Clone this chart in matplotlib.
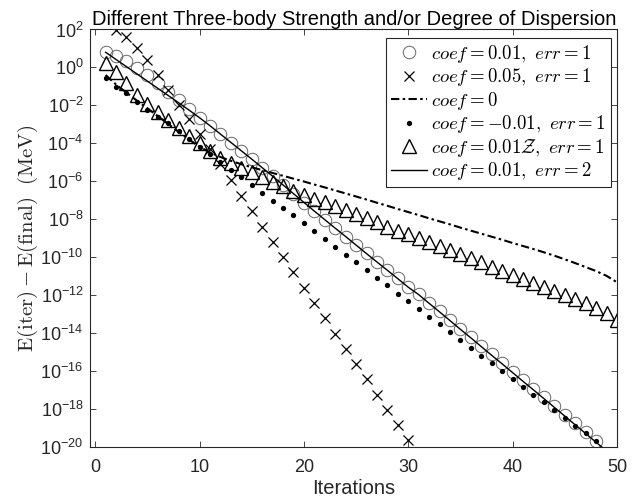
import numpy as np
import matplotlib
matplotlib.use("Agg")
import matplotlib.pyplot as plt
from matplotlib.ticker import FixedLocator, NullLocator, FuncFormatter

plt.rcParams['font.family'] = ['Liberation Sans', 'DejaVu Sans']
plt.rcParams['mathtext.fontset'] = 'cm'

# log10 of E(iter) - E(final) for each run, starting at the iteration given
circ_start = 1
circ_log = [0.80, 0.60, 0.33, -0.02, -0.41, -0.83, -1.29, -1.74, -2.19, -2.64,
            -3.08, -3.52, -3.96, -4.40, -4.84, -5.29, -5.74, -6.20, -6.66, -7.12,
            -7.58, -8.03, -8.47, -8.91, -9.35, -9.80, -10.24, -10.68, -11.12, -11.56,
            -11.95, -12.40, -12.85, -13.31, -13.76, -14.21, -14.67, -15.12, -15.57, -16.03,
            -16.48, -16.93, -17.39, -17.84, -18.29, -18.75, -19.20, -19.66]

cross_start = 2
cross_log = [1.97, 1.62, 1.04, 0.38, -0.41, -1.20, -1.99, -2.74, -3.52, -4.30,
             -5.08, -5.93, -6.75, -7.56, -8.40, -9.21, -10.00, -10.79, -11.60, -12.41,
             -13.21, -14.03, -14.83, -15.63, -16.44, -17.24, -18.04, -18.83, -19.63]

zero_start = 1
zero_log = [-0.40, -0.90, -1.33, -1.75, -2.15, -2.56, -2.98, -3.40, -3.80, -4.18,
            -4.48, -4.72, -4.92, -5.10, -5.26, -5.41, -5.56, -5.71, -5.86, -6.01,
            -6.17, -6.32, -6.48, -6.64, -6.80, -6.96, -7.13, -7.29, -7.46, -7.62,
            -7.78, -7.95, -8.11, -8.27, -8.44, -8.60, -8.76, -8.92, -9.08, -9.25,
            -9.41, -9.57, -9.74, -9.92, -10.11, -10.31, -10.52, -10.73, -10.98, -11.32]

neg_start = 1
neg_log = [-0.55, -1.05, -1.37, -1.81, -2.22, -2.60, -2.95, -3.33, -3.76, -4.17,
           -4.55, -4.99, -5.40, -5.79, -6.22, -6.61, -7.02, -7.41, -7.80, -8.21,
           -8.63, -9.03, -9.46, -9.86, -10.26, -10.69, -11.09, -11.49, -11.92, -12.32,
           -12.72, -13.13, -13.53, -13.95, -14.36, -14.78, -15.18, -15.59, -16.01, -16.42,
           -16.82, -17.24, -17.65, -18.05, -18.46, -18.87, -19.28, -19.70]

z_start = 1
z_log = [0.21, -0.25, -0.84, -1.44, -1.91, -2.34, -2.78, -3.18, -3.60, -4.00,
         -4.42, -4.75, -5.02, -5.29, -5.52, -5.78, -6.04, -6.27, -6.49, -6.72,
         -6.93, -7.10, -7.32, -7.51, -7.72, -7.93, -8.15, -8.39, -8.61, -8.80,
         -8.99, -9.21, -9.42, -9.62, -9.84, -10.05, -10.26, -10.49, -10.72, -10.92,
         -11.14, -11.36, -11.56, -11.77, -11.97, -12.19, -12.42, -12.67, -12.95, -13.30]

err2_start = 1
err2_log = [0.80, 0.42, 0.04, -0.34, -0.72, -1.10, -1.48, -1.86, -2.25, -2.65,
            -3.07, -3.51, -3.95, -4.39, -4.83, -5.28, -5.73, -6.19, -6.65, -7.11,
            -7.57, -8.02, -8.47, -8.91, -9.36, -9.81, -10.25, -10.69, -11.13, -11.58,
            -11.97, -12.43, -12.88, -13.34, -13.80, -14.25, -14.71, -15.17, -15.62, -16.08,
            -16.54, -16.99, -17.45, -17.91, -18.37, -18.83, -19.29, -19.75, -20.21]

ytick_exp = [-20, -18, -16, -14, -12, -10, -8, -6, -4, -2, 0, 2]
xticks = [0, 10, 20, 30, 40, 50]


def series(start, logs):
    it = np.arange(start, start + len(logs))
    return it, 10.0 ** np.array(logs)


fig = plt.figure(figsize=(6.44, 5.04), dpi=100)
ax = fig.add_axes([0.1405, 0.1131, 0.8175, 0.8284])

axcol = (0.15, 0.15, 0.15)

x, y = series(circ_start, circ_log)
ax.plot(x, y, 'o', mfc='none', mec=(0.4, 0.4, 0.4), mew=0.7, ms=9,
        label=r'$coef=0.01,\ err=1$')
x, y = series(cross_start, cross_log)
ax.plot(x, y, 'x', color='k', mew=0.9, ms=6.5,
        label=r'$coef=0.05,\ err=1$')
x, y = series(zero_start, zero_log)
ax.plot(x, y, color='k', lw=1.5, ls=(0, (4, 1.6, 1.2, 1.6)),
        label=r'$coef=0$')
x, y = series(neg_start, neg_log)
ax.plot(x, y, 'o', color='k', ms=3.8, mew=0,
        label=r'$coef=-0.01,\ err=1$')
x, y = series(z_start, z_log)
ax.plot(x, y, '^', mfc='none', mec='k', mew=1.0, ms=9.5,
        label=r'$coef=0.01\mathcal{Z},\ err=1$')
x, y = series(err2_start, err2_log)
ax.plot(x, y, color='k', lw=1.0,
        label=r'$coef=0.01,\ err=2$')

ax.set_yscale('log')
ax.set_xlim(-0.45, 50)
ax.set_ylim(1e-20, 1e2)
ax.set_xticks(xticks)
ax.yaxis.set_major_locator(FixedLocator([10.0 ** e for e in ytick_exp]))
ax.yaxis.set_minor_locator(NullLocator())
ax.yaxis.set_major_formatter(FuncFormatter(
    lambda v, _: r'$\mathdefault{10^{%d}}$' % round(np.log10(v))))

ax.tick_params(direction='in', top=True, right=True, length=4, width=0.6,
               colors=axcol, labelsize=13)
ax.tick_params(axis='x', pad=9)
ax.tick_params(axis='y', pad=5)
for s in ax.spines.values():
    s.set_color(axcol)
    s.set_linewidth(0.8)

ax.set_title('Different Three-body Strength and/or Degree of Dispersion',
             fontsize=14.5, pad=3)
ax.set_xlabel('Iterations', fontsize=14.5, color=axcol, labelpad=2)
ax.set_ylabel(r'$\mathrm{E(iter)-E(final)\ \ (MeV)}$', fontsize=15,
              color=axcol, labelpad=0)

leg = ax.legend(loc='upper right', bbox_to_anchor=(0.9886, 0.9796),
                borderaxespad=0, fontsize=13.5, numpoints=1, handlelength=1.9,
                handletextpad=0.25, labelspacing=0.08, borderpad=0.25,
                fancybox=False, framealpha=1, edgecolor=axcol)
leg.get_frame().set_linewidth(0.8)

fig.savefig('out.png', dpi=100)
